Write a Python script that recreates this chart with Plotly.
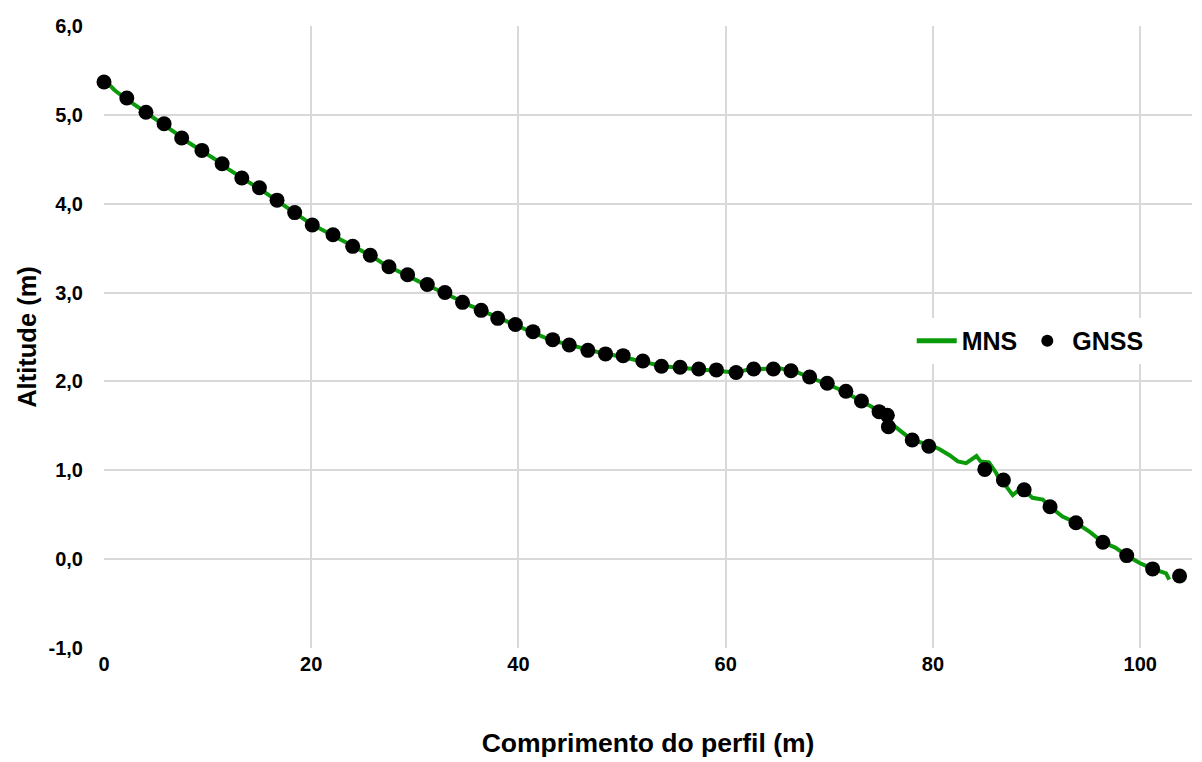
import plotly.graph_objects as go

# GNSS survey points (distance along profile, altitude)
gnss_x = [0.0, 2.2, 4.05, 5.8, 7.5, 9.45, 11.4, 13.3, 15.0, 16.7, 18.4, 20.1, 22.1, 24.0,
          25.7, 27.5, 29.3, 31.2, 32.9, 34.6, 36.4, 38.0, 39.7, 41.4, 43.3, 44.9, 46.7,
          48.4, 50.1, 52.0, 53.8, 55.6, 57.4, 59.1, 61.0, 62.7, 64.6, 66.3, 68.1, 69.8,
          71.6, 73.1, 74.8, 75.6, 75.7, 78.0, 79.6, 85.0, 86.8, 88.8, 91.3, 93.8, 96.4,
          98.7, 101.2, 103.8]
gnss_y = [5.37, 5.19, 5.03, 4.90, 4.74, 4.60, 4.45, 4.29, 4.18, 4.04, 3.90, 3.76, 3.65, 3.52,
          3.42, 3.29, 3.20, 3.09, 3.00, 2.89, 2.80, 2.71, 2.64, 2.56, 2.47, 2.41, 2.35,
          2.31, 2.29, 2.23, 2.17, 2.16, 2.14, 2.13, 2.10, 2.14, 2.14, 2.12, 2.05, 1.98,
          1.89, 1.78, 1.66, 1.62, 1.49, 1.34, 1.27, 1.01, 0.89, 0.78, 0.59, 0.41, 0.19,
          0.04, -0.11, -0.19]

# MNS (surface model) profile
mns_x = [0, 1, 2, 3, 4, 5, 6, 7, 8, 9, 10, 11, 12, 13, 14, 15, 16, 17, 18, 19, 20,
         21, 22, 23, 24, 25, 26, 27, 28, 29, 30, 31, 32, 33, 34, 35, 36, 37, 38, 39, 40,
         41, 42, 43, 44, 45, 46, 47, 48, 49, 50, 51, 52, 53, 54, 55, 56, 57, 58, 59, 60,
         61, 62, 63, 64, 65, 66, 67, 68, 69, 70, 71, 72, 73, 74, 75, 75.7, 76.8, 78.0,
         79.6, 80.6, 81.6, 82.4, 83.2, 83.7, 84.2, 84.6, 85.4, 86.1, 86.6, 87.0, 87.7,
         88.1, 88.8, 89.6, 90.6, 91.3, 92.5, 93.8, 95.1, 96.4, 97.6, 98.7, 99.9, 101.2,
         102.5, 102.8]
mns_y = [5.40, 5.28, 5.19, 5.11, 5.03, 4.96, 4.88, 4.79, 4.70, 4.63, 4.56, 4.48, 4.39,
         4.31, 4.24, 4.17, 4.09, 4.01, 3.93, 3.85, 3.77, 3.71, 3.65, 3.58, 3.52, 3.46,
         3.40, 3.32, 3.26, 3.21, 3.15, 3.09, 3.04, 2.99, 2.93, 2.87, 2.82, 2.76, 2.71,
         2.67, 2.62, 2.57, 2.52, 2.47, 2.44, 2.41, 2.37, 2.34, 2.32, 2.30, 2.28, 2.25,
         2.22, 2.19, 2.17, 2.16, 2.15, 2.14, 2.13, 2.12, 2.11, 2.10, 2.13, 2.14, 2.15,
         2.15, 2.13, 2.10, 2.05, 2.01, 1.96, 1.91, 1.85, 1.79, 1.72, 1.65, 1.55, 1.45,
         1.34, 1.29, 1.24, 1.17, 1.10, 1.08, 1.12, 1.16, 1.10, 1.09, 0.97, 0.86, 0.83,
         0.72, 0.76, 0.78, 0.69, 0.67, 0.59, 0.48, 0.41, 0.31, 0.19, 0.13, 0.04, -0.04,
         -0.11, -0.16, -0.23]

x_ticks = [0, 20, 40, 60, 80, 100]
y_ticks = [-1.0, 0.0, 1.0, 2.0, 3.0, 4.0, 5.0, 6.0]
y_tick_text = ["-1,0", "0,0", "1,0", "2,0", "3,0", "4,0", "5,0", "6,0"]

FONT = "Liberation Sans, Arial, sans-serif"

fig = go.Figure()
fig.add_trace(go.Scatter(x=mns_x, y=mns_y, mode="lines", name="MNS",
                         line=dict(color="#0a9a0a", width=4), cliponaxis=False))
fig.add_trace(go.Scatter(x=gnss_x, y=gnss_y, mode="markers", name="GNSS",
                         marker=dict(color="black", size=15), cliponaxis=False))

fig.update_layout(
    width=1194, height=754,
    margin=dict(l=96, r=10, t=18, b=114),
    paper_bgcolor="white", plot_bgcolor="white",
    separators=",.",
    font=dict(family=FONT, color="black", size=20),
    legend=dict(orientation="h", x=0.7424, y=0.4936, xanchor="left", yanchor="middle",
                bgcolor="white", font=dict(size=25, family=FONT, weight="bold"),
                itemsizing="constant", itemwidth=40),
    xaxis=dict(range=[0, 105], tickvals=x_ticks, showgrid=True, gridcolor="#d9d9d9",
               gridwidth=1.5, zeroline=False, showline=False, ticks="", automargin=False,
               tickfont=dict(size=20, family=FONT, weight="bold"), ticklabelstandoff=2,
               title=dict(text="Comprimento do perfil (m)", standoff=59,
                          font=dict(size=26.5, family=FONT, weight="bold"))),
    yaxis=dict(range=[-1.0, 6.0], tickvals=y_ticks, ticktext=y_tick_text, showgrid=True,
               gridcolor="#d9d9d9", gridwidth=1.5, zeroline=False, showline=False, ticks="",
               automargin=False,
               tickfont=dict(size=20, family=FONT, weight="bold"),
               ticklabelstandoff=20,
               title=dict(text="Altitude (m)", standoff=4,
                          font=dict(size=25.5, family=FONT, weight="bold"))),
)

fig.write_html("out.html")
